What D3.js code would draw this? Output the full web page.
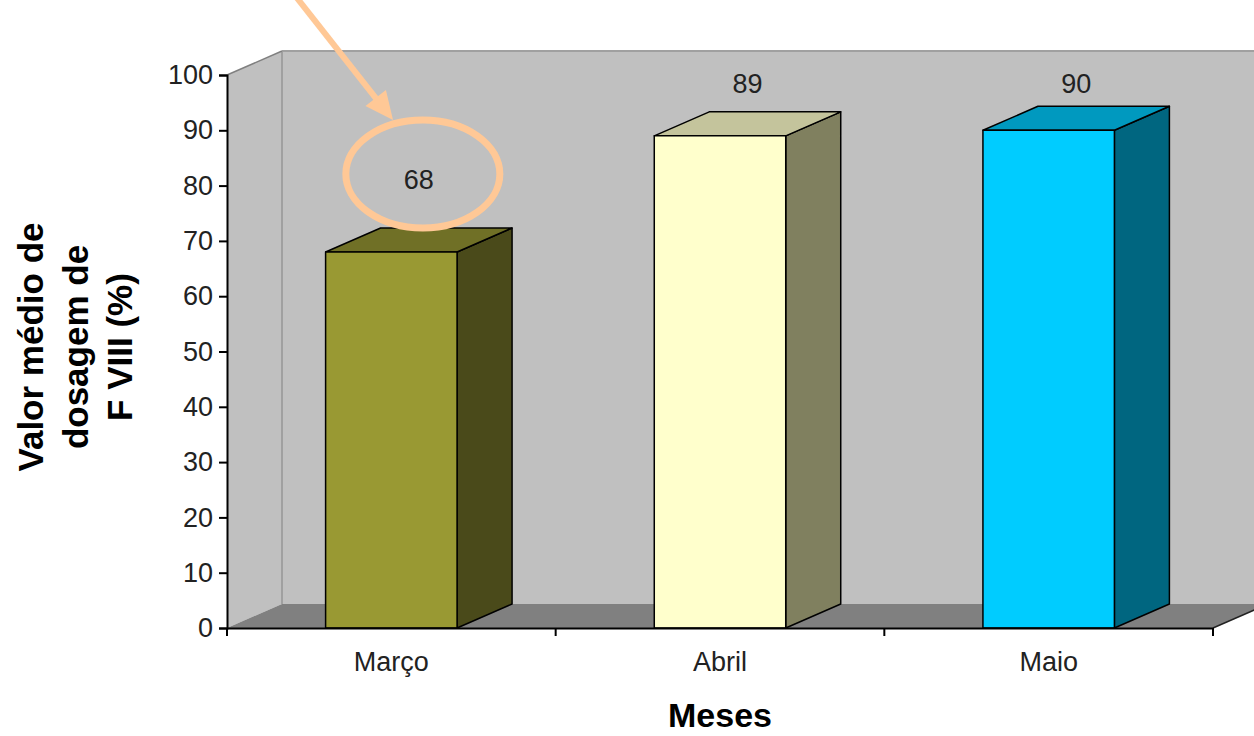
<!DOCTYPE html>
<html>
<head>
<meta charset="utf-8">
<script src="https://cdn.jsdelivr.net/npm/d3@7"></script>
<style>
  body { margin: 0; background: #fff; }
  svg { display: block; }
  text { font-family: Arial, "Liberation Sans", sans-serif; }
</style>
</head>
<body>
<div id="chart"></div>
<script>
const MONTHS = ["Março", "Abril", "Maio"]
const VALUES = [68, 89, 90]
const Y_TICKS = [0, 10, 20, 30, 40, 50, 60, 70, 80, 90, 100]
const Y_TITLE = ["Valor médio de", "dosagem de", "F VIII (%)"]
const X_TITLE = "Meses"

// front, top, side shades per bar
const FRONT = ["#999933", "#ffffcc", "#00ccff"]
const TOP   = ["#707026", "#c4c49c", "#0099bf"]
const SIDE  = ["#4a4a1a", "#80805f", "#006680"]

const W = 1254, H = 736
const plotLeft = 227, plotRight = 1213, plotBottom = 628, plotTop = 75
const dx = 55, dy = -24   // depth offset of the 3d walls

const svg = d3.select("#chart").append("svg")
  .attr("width", W)
  .attr("height", H)

const y = d3.scaleLinear().domain([0, 100]).range([plotBottom, plotTop])
const x = d3.scaleBand().domain(MONTHS).range([plotLeft, plotRight])
  .paddingInner(0.6).paddingOuter(0.3)
const bw = x.bandwidth()

const pts = a => a.map(p => p.join(",")).join(" ")

// walls + floor
svg.append("polygon")
  .attr("points", pts([[plotLeft + dx, y(100) + dy], [plotRight + dx, y(100) + dy], [plotRight + dx, y(0) + dy], [plotLeft + dx, y(0) + dy]]))
  .attr("fill", "#c0c0c0")
svg.append("polygon")
  .attr("points", pts([[plotLeft, y(100)], [plotLeft + dx, y(100) + dy], [plotLeft + dx, y(0) + dy], [plotLeft, y(0)]]))
  .attr("fill", "#c0c0c0")
svg.append("polygon")
  .attr("points", pts([[plotLeft, y(0)], [plotRight, y(0)], [plotRight + dx, y(0) + dy], [plotLeft + dx, y(0) + dy]]))
  .attr("fill", "#808080")

// wall edges
svg.append("line")
  .attr("x1", plotLeft + dx).attr("x2", plotRight + dx)
  .attr("y1", y(100) + dy).attr("y2", y(100) + dy)
  .attr("stroke", "#a0a0a0").attr("stroke-width", 2)
svg.append("line")
  .attr("x1", plotLeft + dx).attr("x2", plotLeft + dx)
  .attr("y1", y(100) + dy).attr("y2", y(0) + dy)
  .attr("stroke", "#a0a0a0").attr("stroke-width", 2)
svg.append("line")
  .attr("x1", plotLeft).attr("y1", y(100))
  .attr("x2", plotLeft + dx).attr("y2", y(100) + dy)
  .attr("stroke", "#808080").attr("stroke-width", 1.5)
svg.append("line")
  .attr("x1", plotRight).attr("y1", y(0))
  .attr("x2", plotRight + dx).attr("y2", y(0) + dy)
  .attr("stroke", "#222").attr("stroke-width", 1.5)

// bars
const barData = VALUES.map((v, i) => ({ m: MONTHS[i], v, i }))
const bars = svg.selectAll(".bar")
  .data(barData)
  .enter()
  .append("g")
  .attr("class", "bar")
  .attr("stroke", "#000")
  .attr("stroke-width", 1.5)
  .attr("stroke-linejoin", "round")

bars.append("polygon")
  .attr("points", d => {
    const x0 = x(d.m), x1 = x0 + bw, yt = y(d.v)
    return pts([[x1, yt], [x1 + dx, yt + dy], [x1 + dx, y(0) + dy], [x1, y(0)]])
  })
  .attr("fill", d => SIDE[d.i])
bars.append("polygon")
  .attr("points", d => {
    const x0 = x(d.m), x1 = x0 + bw, yt = y(d.v)
    return pts([[x0, yt], [x0 + dx, yt + dy], [x1 + dx, yt + dy], [x1, yt]])
  })
  .attr("fill", d => TOP[d.i])
bars.append("rect")
  .attr("x", d => x(d.m))
  .attr("y", d => y(d.v))
  .attr("width", bw)
  .attr("height", d => y(0) - y(d.v))
  .attr("fill", d => FRONT[d.i])

// y axis
const yAxis = svg.append("g")
  .attr("transform", `translate(${plotLeft},0)`)
  .call(d3.axisLeft(y).tickValues(Y_TICKS).tickSize(8).tickPadding(6))
yAxis.select(".domain").attr("stroke", "#000").attr("stroke-width", 2)
yAxis.selectAll(".tick line").attr("stroke", "#000").attr("stroke-width", 2)
yAxis.selectAll(".tick text")
  .attr("font-size", 27)
  .attr("fill", "#222")
  .attr("font-family", "Arial, 'Liberation Sans', sans-serif")

// x axis: labels at band centres, ticks on band boundaries
const xAxis = svg.append("g")
  .attr("transform", `translate(0,${plotBottom})`)
  .call(d3.axisBottom(x).tickSize(0).tickPadding(24))
xAxis.select(".domain").attr("stroke", "#000").attr("stroke-width", 2)
xAxis.selectAll(".tick text")
  .attr("font-size", 27)
  .attr("fill", "#222")
  .attr("font-family", "Arial, 'Liberation Sans', sans-serif")

const bounds = d3.range(MONTHS.length + 1).map(i => plotLeft + i * x.step())
svg.selectAll(".xtick")
  .data(bounds)
  .enter()
  .append("line")
  .attr("x1", d => d).attr("x2", d => d)
  .attr("y1", plotBottom).attr("y2", plotBottom + 8)
  .attr("stroke", "#000").attr("stroke-width", 2)

// data labels
const labelX = d => x(d.m) + bw / 2 + dx / 2
const labelY = d => Math.max(y(d.v) - 72, y(100) + 9)
svg.selectAll(".val")
  .data(barData)
  .enter()
  .append("text")
  .attr("class", "val")
  .attr("x", labelX)
  .attr("y", labelY)
  .attr("dy", "0.35em")
  .attr("text-anchor", "middle")
  .attr("font-size", 27)
  .attr("fill", "#222")
  .text(d => d.v)

// axis titles
svg.append("text")
  .attr("transform", "translate(0,347) rotate(-90)")
  .attr("text-anchor", "middle")
  .attr("font-size", 35)
  .attr("font-weight", "bold")
  .selectAll("tspan")
  .data(Y_TITLE)
  .enter()
  .append("tspan")
  .attr("x", 0)
  .attr("y", (d, i) => 43 + i * 44.5)
  .text(d => d)

svg.append("text")
  .attr("x", (plotLeft + plotRight) / 2)
  .attr("y", 727)
  .attr("text-anchor", "middle")
  .attr("font-size", 34)
  .attr("font-weight", "bold")
  .text(X_TITLE)

// annotation: circle around first label + arrow pointing at it
const first = barData[0]
const cx = labelX(first) + 4, cy = labelY(first) - 6
const peach = "#ffc896"
svg.append("ellipse")
  .attr("cx", cx).attr("cy", cy)
  .attr("rx", 77).attr("ry", 54)
  .attr("fill", "none")
  .attr("stroke", peach)
  .attr("stroke-width", 7)

const tip = [393, 120], tail = [297, -2]
const segLen = Math.hypot(tip[0] - tail[0], tip[1] - tail[1])
const ux = (tip[0] - tail[0]) / segLen, uy = (tip[1] - tail[1]) / segLen
const headLen = 28, headW = 13
const base = [tip[0] - ux * headLen, tip[1] - uy * headLen]
svg.append("line")
  .attr("x1", tail[0]).attr("y1", tail[1])
  .attr("x2", base[0] + ux * 4).attr("y2", base[1] + uy * 4)
  .attr("stroke", peach)
  .attr("stroke-width", 6)
svg.append("polygon")
  .attr("points", pts([tip, [base[0] - uy * headW, base[1] + ux * headW], [base[0] + uy * headW, base[1] - ux * headW]]))
  .attr("fill", peach)
</script>
</body>
</html>
